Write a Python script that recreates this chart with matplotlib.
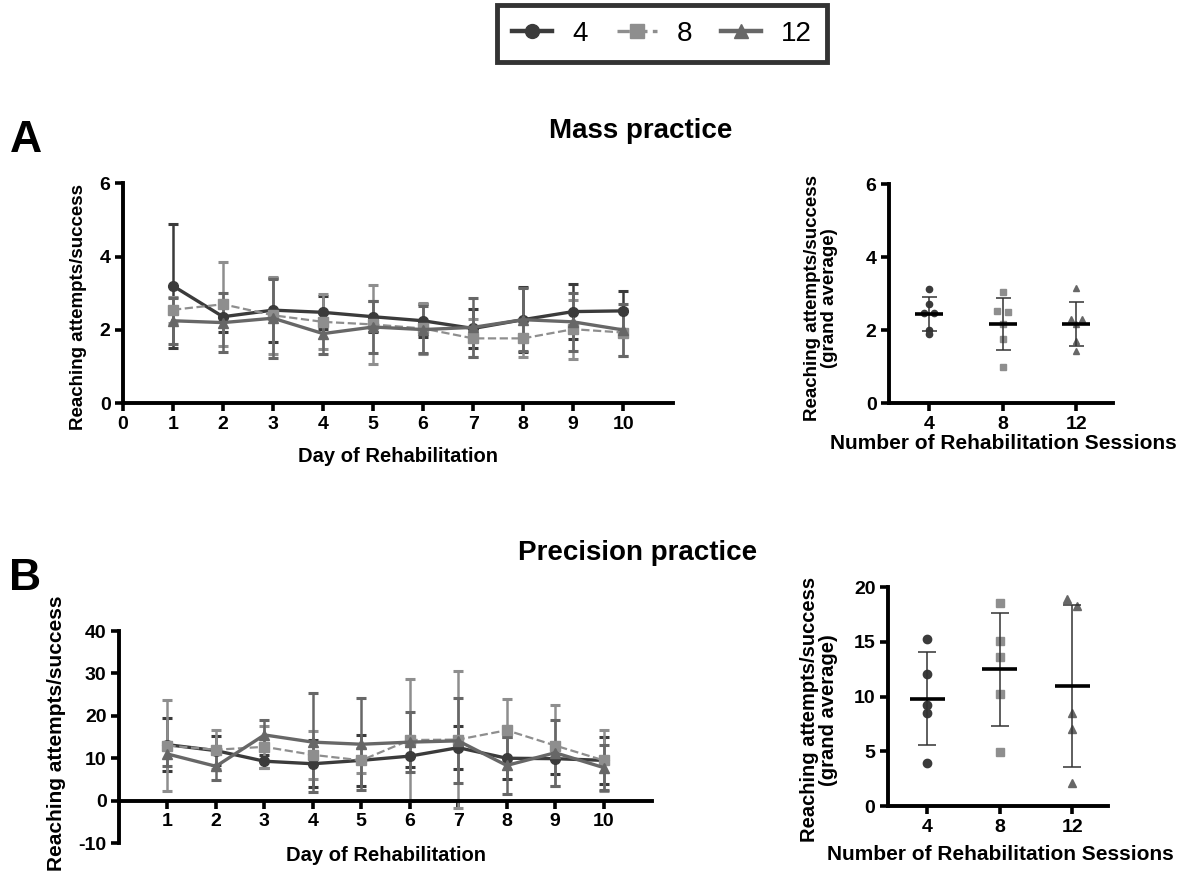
import matplotlib
matplotlib.use('Agg')
import matplotlib.pyplot as plt
from matplotlib.lines import Line2D
import numpy as np

plt.rcParams['font.family'] = ['Liberation Sans', 'DejaVu Sans']
plt.rcParams['font.weight'] = 'bold'
plt.rcParams['axes.labelweight'] = 'bold'
plt.rcParams['axes.unicode_minus'] = False

days = np.arange(1, 11)
sessions = ['4', '8', '12']

# Mass practice, daily mean and SD per group
mass_mean_4 = [3.20, 2.36, 2.54, 2.48, 2.36, 2.25, 2.04, 2.28, 2.50, 2.52]
mass_mean_8 = [2.55, 2.70, 2.40, 2.22, 2.15, 2.04, 1.77, 1.77, 2.02, 1.93]
mass_mean_12 = [2.25, 2.20, 2.32, 1.90, 2.08, 2.01, 2.07, 2.28, 2.22, 2.00]
mass_sd_4 = [1.68, 0.42, 0.88, 0.45, 0.42, 0.45, 0.52, 0.88, 0.75, 0.53]
mass_sd_8 = [0.35, 1.14, 1.05, 0.75, 1.08, 0.70, 0.52, 0.50, 0.80, 0.65]
mass_sd_12 = [0.62, 0.80, 1.08, 0.55, 0.72, 0.65, 0.80, 0.85, 0.80, 0.70]

# Precision practice, daily mean and SD per group
prec_mean_4 = [13.2, 11.8, 9.3, 8.7, 9.5, 10.5, 12.5, 10.0, 9.9, 9.5]
prec_mean_8 = [13.0, 12.0, 12.7, 10.8, 9.5, 14.3, 14.4, 16.6, 13.0, 9.5]
prec_mean_12 = [11.0, 8.1, 15.5, 13.8, 13.3, 13.8, 14.1, 8.3, 11.3, 7.8]
prec_sd_4 = [6.2, 3.4, 1.5, 5.6, 6.0, 2.5, 5.0, 5.0, 3.5, 5.6]
prec_sd_8 = [10.8, 4.6, 5.0, 5.7, 3.0, 14.3, 16.2, 7.3, 9.6, 7.2]
prec_sd_12 = [2.8, 3.2, 3.6, 11.7, 10.8, 7.0, 10.0, 6.8, 7.8, 5.4]

# grand averages per animal
mass_grand_4 = [3.13, 2.71, 2.47, 2.47, 2.00, 1.89]
mass_grand_8 = [3.06, 2.53, 2.49, 2.17, 1.75, 1.00]
mass_grand_12 = [3.17, 2.31, 2.31, 2.17, 1.71, 1.42]
prec_grand_4 = [15.3, 12.1, 9.2, 8.5, 3.95]
prec_grand_8 = [18.57, 15.05, 13.6, 10.2, 4.95]
prec_grand_12 = [18.9, 18.3, 8.5, 7.0, 2.07]

c4, c8, c12 = '#3b3b3b', '#8e8e8e', '#676767'
styles = [
    dict(color=c4, marker='o', ls='-', lw=2.4, ms=7),
    dict(color=c8, marker='s', ls='--', lw=1.6, ms=7),
    dict(color=c12, marker='^', ls='-', lw=2.4, ms=7),
]
grand_colors = [c4, c8, c12]
grand_markers = ['o', 's', '^']

fig = plt.figure(figsize=(11.83, 8.71), dpi=100)


def style_axes(ax):
    for s in ['top', 'right']:
        ax.spines[s].set_visible(False)
    for s in ['left', 'bottom']:
        ax.spines[s].set_linewidth(2.8)
    ax.tick_params(width=2.6, length=5.5, labelsize=14)
    for lbl in ax.get_xticklabels() + ax.get_yticklabels():
        lbl.set_fontweight('bold')


def daily_panel(ax, means, sds, label_size):
    for m, sd, st in zip(means, sds, styles):
        ax.errorbar(days, m, yerr=sd, color=st['color'], marker=st['marker'],
                    ls=st['ls'], lw=st['lw'], ms=st['ms'], elinewidth=1.8,
                    capsize=3.5, capthick=2.2)
    ax.set_xlim(0, 11)
    ax.set_xticks(range(0, 11))
    ax.set_xlabel('Day of Rehabilitation', fontsize=14.5)
    ax.set_ylabel('Reaching attempts/success', fontsize=label_size)


def spread(vals, tol):
    # nudge near-identical values sideways so the points don't overlap
    vals = np.asarray(vals)
    offs = np.zeros(len(vals))
    used = np.zeros(len(vals), bool)
    for i in range(len(vals)):
        if used[i]:
            continue
        grp = [j for j in range(len(vals)) if not used[j] and abs(vals[j] - vals[i]) < tol]
        for j in grp:
            used[j] = True
        if len(grp) > 1:
            for j, p in zip(grp, np.linspace(-0.07, 0.07, len(grp))):
                offs[j] = p
    return offs


def grand_panel(ax, groups, tol, ms, half, cap, label_size):
    for k, vals in enumerate(groups):
        x = k + spread(vals, tol)
        ax.plot(x, vals, ls='none', marker=grand_markers[k], color=grand_colors[k], ms=ms)
        mean = np.mean(vals)
        sd = np.std(vals, ddof=1)
        ax.errorbar(k, mean, yerr=sd, color='#333333', lw=1.1, capsize=cap, capthick=1.1)
        ax.hlines(mean, k - half, k + half, color='black', lw=2.6, zorder=5)
    ax.set_xlim(-0.54, 2.49)
    ax.set_xticks(range(3))
    ax.set_xticklabels(sessions)
    ax.set_xlabel('Number of Rehabilitation Sessions', fontsize=15)
    ax.set_ylabel('Reaching attempts/success\n(grand average)', fontsize=label_size,
                  linespacing=1.0)


# A: mass practice
axA = fig.add_axes([0.104, 0.537, 0.465, 0.2526])
daily_panel(axA, [mass_mean_4, mass_mean_8, mass_mean_12],
            [mass_sd_4, mass_sd_8, mass_sd_12], 13.5)
axA.set_ylim(0, 6)
axA.set_yticks([0, 2, 4, 6])
style_axes(axA)
axA.yaxis.set_label_coords(-0.065, 0.436)
axA.xaxis.set_label_coords(0.5, -0.2)

axA2 = fig.add_axes([0.7515, 0.537, 0.189, 0.2515])
grand_panel(axA2, [mass_grand_4, mass_grand_8, mass_grand_12], tol=0.08, ms=4.5,
            half=0.19, cap=5.4, label_size=13.5)
axA2.set_ylim(0, 6)
axA2.set_yticks([0, 2, 4, 6])
style_axes(axA2)
axA2.yaxis.set_label_coords(-0.228, 0.48)
axA2.xaxis.set_label_coords(0.51, -0.14)

# B: precision practice
axB = fig.add_axes([0.1006, 0.0321, 0.4506, 0.2434])
daily_panel(axB, [prec_mean_4, prec_mean_8, prec_mean_12],
            [prec_sd_4, prec_sd_8, prec_sd_12], 15)
axB.set_ylim(-10, 40)
axB.set_yticks([-10, 0, 10, 20, 30, 40])
axB.set_xticks(days)
axB.spines['bottom'].set_position(('data', 0))
style_axes(axB)
axB.yaxis.set_label_coords(-0.1, 0.52)
axB.xaxis.set_label_coords(0.5, -0.012)

axB2 = fig.add_axes([0.7506, 0.0746, 0.186, 0.2514])
grand_panel(axB2, [prec_grand_4, prec_grand_8, prec_grand_12], tol=0.65, ms=6,
            half=0.24, cap=6.8, label_size=14.5)
axB2.set_ylim(0, 20)
axB2.set_yticks([0, 5, 10, 15, 20])
style_axes(axB2)
axB2.yaxis.set_label_coords(-0.227, 0.44)
axB2.xaxis.set_label_coords(0.51, -0.18)

fig.text(0.008, 0.825, 'A', fontsize=32, fontweight='bold')
fig.text(0.008, 0.3226, 'B', fontsize=32, fontweight='bold')
fig.text(0.542, 0.8416, 'Mass practice', fontsize=20, fontweight='bold', ha='center')
fig.text(0.539, 0.357, 'Precision practice', fontsize=20, fontweight='bold', ha='center')

# legend keys: line + marker only
keys = [Line2D([], [], color=st['color'], marker=st['marker'], ls=st['ls'],
               lw=st['lw'] + 0.8, ms=10) for st in styles]
leg = fig.legend(keys, sessions, loc='upper center', bbox_to_anchor=(0.5595, 0.994),
                 borderaxespad=0, ncol=3, frameon=True, fancybox=False, edgecolor='black',
                 handlelength=1.45, handletextpad=0.7, columnspacing=1.05, borderpad=0.55,
                 prop={'weight': 'normal', 'size': 20})
leg.get_frame().set_linewidth(3.5)

fig.savefig('out.png', dpi=100)
